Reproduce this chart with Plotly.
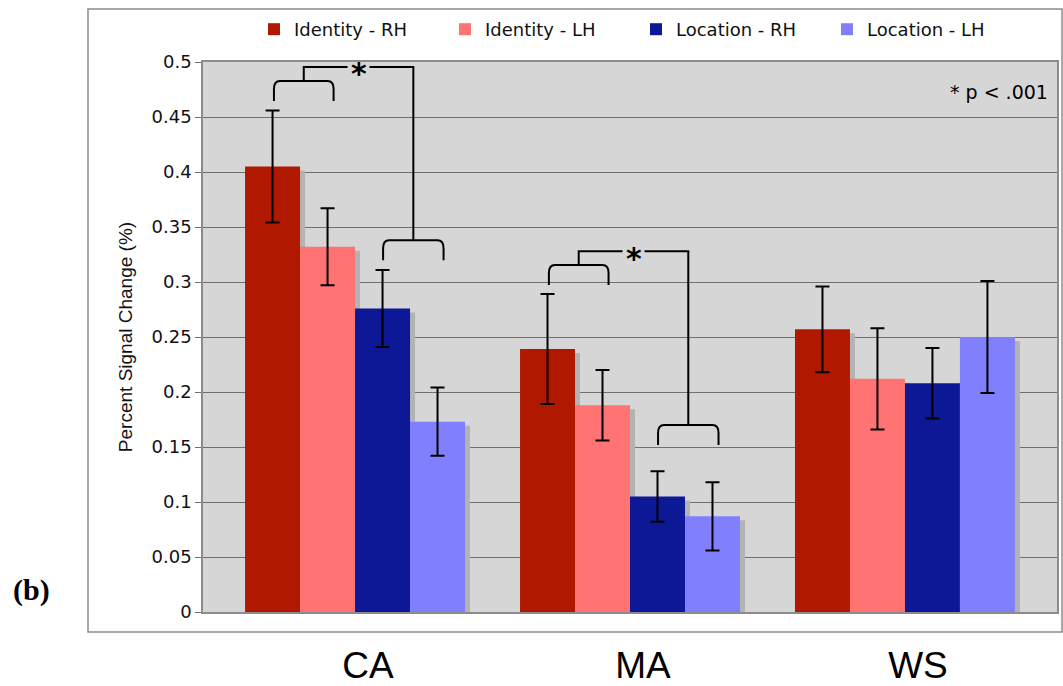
import plotly.graph_objects as go

# Percent signal change per group and condition
groups = ["CA", "MA", "WS"]
series_names = ["Identity - RH", "Identity - LH", "Location - RH", "Location - LH"]
identity_rh = [0.405, 0.239, 0.257]
identity_lh = [0.332, 0.188, 0.212]
location_rh = [0.276, 0.105, 0.208]
location_lh = [0.173, 0.087, 0.250]
# standard-error half widths
err_identity_rh = [0.051, 0.050, 0.039]
err_identity_lh = [0.035, 0.032, 0.046]
err_location_rh = [0.035, 0.023, 0.032]
err_location_lh = [0.031, 0.031, 0.051]

values = [identity_rh, identity_lh, location_rh, location_lh]
errors = [err_identity_rh, err_identity_lh, err_location_rh, err_location_lh]
colors = ["#B01800", "#FF7373", "#0D1896", "#8080FF"]

W, H = 1063, 686
L, R, T, B = 203, 6, 62, 74
XR = [-0.553, 2.553]
YR = [0, 0.5]
ux = (XR[1] - XR[0]) / (W - L - R)   # data units per pixel, x
uy = (YR[1] - YR[0]) / (H - T - B)   # data units per pixel, y

xpos = list(range(len(groups)))
bar_w = 0.2
offsets = [-0.4, -0.2, 0.0, 0.2]

fig = go.Figure()

# drop shadows behind every bar
for vals, off in zip(values, offsets):
    fig.add_trace(go.Bar(
        x=xpos, y=vals, base=[-4 * uy] * len(vals),
        width=bar_w, offset=off + 5 * ux,
        marker=dict(color="#B3B3B3", line=dict(width=0)),
        showlegend=False, hoverinfo="skip",
    ))

for name, vals, errs, col, off in zip(series_names, values, errors, colors, offsets):
    fig.add_trace(go.Bar(
        x=xpos, y=vals, name=name,
        width=bar_w, offset=off,
        marker=dict(color=col, line=dict(width=0)),
        error_y=dict(type="data", array=errs, visible=True,
                     color="black", thickness=2, width=7),
    ))

# significance brackets
def bracket(x0, x1, y, drop):
    rx, ry = 6 * ux, 8 * uy
    return (f"M{x0},{y - drop} L{x0},{y - ry} Q{x0},{y} {x0 + rx},{y} "
            f"L{x1 - rx},{y} Q{x1},{y} {x1},{y - ry} L{x1},{y - drop}")

line_style = dict(color="black", width=2)
comparisons = [
    # group index, identity bracket y, location bracket y, top connector y
    (0, 0.4827, 0.338, 0.4955),
    (1, 0.3155, 0.170, 0.328),
]
shapes = []
annotations = []
drop = 20 * uy
gap = 11 * ux
for g, y_id, y_loc, y_top in comparisons:
    a0, a1 = g + offsets[0] + bar_w / 2 + 0.005, g + offsets[1] + bar_w / 2 + 0.022
    b0, b1 = g + offsets[2] + bar_w / 2 + 0.002, g + offsets[3] + bar_w / 2 + 0.022
    ma, mb = (a0 + a1) / 2, (b0 + b1) / 2
    star = (ma + mb) / 2
    shapes.append(dict(type="path", xref="x", yref="y", path=bracket(a0, a1, y_id, drop), line=line_style))
    shapes.append(dict(type="path", xref="x", yref="y", path=bracket(b0, b1, y_loc, drop), line=line_style))
    shapes.append(dict(type="path", xref="x", yref="y",
                       path=f"M{ma},{y_id} L{ma},{y_top} L{star - gap},{y_top}", line=line_style))
    shapes.append(dict(type="path", xref="x", yref="y",
                       path=f"M{star + gap},{y_top} L{mb},{y_top} L{mb},{y_loc}", line=line_style))
    annotations.append(dict(x=star, y=y_top, xref="x", yref="y", text="<b>*</b>",
                            showarrow=False, yanchor="middle", yshift=-7,
                            font=dict(family="DejaVu Sans", size=30, color="black")))

# outer frame of the chart
def px_to_paper(xp, yp):
    return (xp - L) / (W - L - R), (H - B - yp) / (H - T - B)

fx0, fy0 = px_to_paper(88, 632)
fx1, fy1 = px_to_paper(1062, 9)
shapes.append(dict(type="rect", xref="paper", yref="paper", x0=fx0, y0=fy0, x1=fx1, y1=fy1,
                   line=dict(color="#8C8C8C", width=1.5), layer="below"))

px_, py_ = px_to_paper(1050, 92)
annotations.append(dict(x=px_, y=py_, xref="paper", yref="paper", text="* p < .001",
                        showarrow=False, xanchor="right", yanchor="middle",
                        font=dict(family="DejaVu Sans", size=19, color="black")))
bx_, by_ = px_to_paper(11, 590)
annotations.append(dict(x=bx_, y=by_, xref="paper", yref="paper", text="<b>(b)</b>",
                        showarrow=False, xanchor="left", yanchor="middle",
                        font=dict(family="Liberation Serif", size=30, color="black")))

lx, ly = px_to_paper(254, 11)
fig.update_layout(
    width=W, height=H,
    margin=dict(l=L, r=R, t=T, b=B, autoexpand=False),
    paper_bgcolor="white", plot_bgcolor="#D6D6D6",
    barmode="overlay",
    font=dict(family="DejaVu Sans", color="#111111"),
    showlegend=True,
    legend=dict(orientation="h", x=lx, y=ly, xanchor="left", yanchor="top",
                font=dict(family="DejaVu Sans", size=18, color="#111111"),
                bgcolor="rgba(0,0,0,0)", entrywidth=146),
    shapes=shapes, annotations=annotations,
    xaxis=dict(range=XR, tickvals=xpos, ticktext=groups, showgrid=False,
               zeroline=False, ticks="", showline=True, linecolor="#8C8C8C",
               linewidth=1.5, mirror=True, automargin=False,
               tickfont=dict(family="Liberation Sans", size=37, color="black"),
               ticklabelstandoff=20, ticklabelshift=13),
    yaxis=dict(range=YR, dtick=0.05, tick0=0, showgrid=True, gridcolor="#707070",
               gridwidth=1, zeroline=False, ticks="outside", ticklen=6,
               tickcolor="#707070", showline=True, linecolor="#8C8C8C",
               linewidth=1.5, mirror=True, automargin=False,
               tickfont=dict(family="DejaVu Sans", size=18, color="#111111"),
               title=dict(text="Percent Signal Change (%)", standoff=14,
                          font=dict(family="Liberation Sans", size=19, color="#111111"))),
)

fig.write_html("out.html")
